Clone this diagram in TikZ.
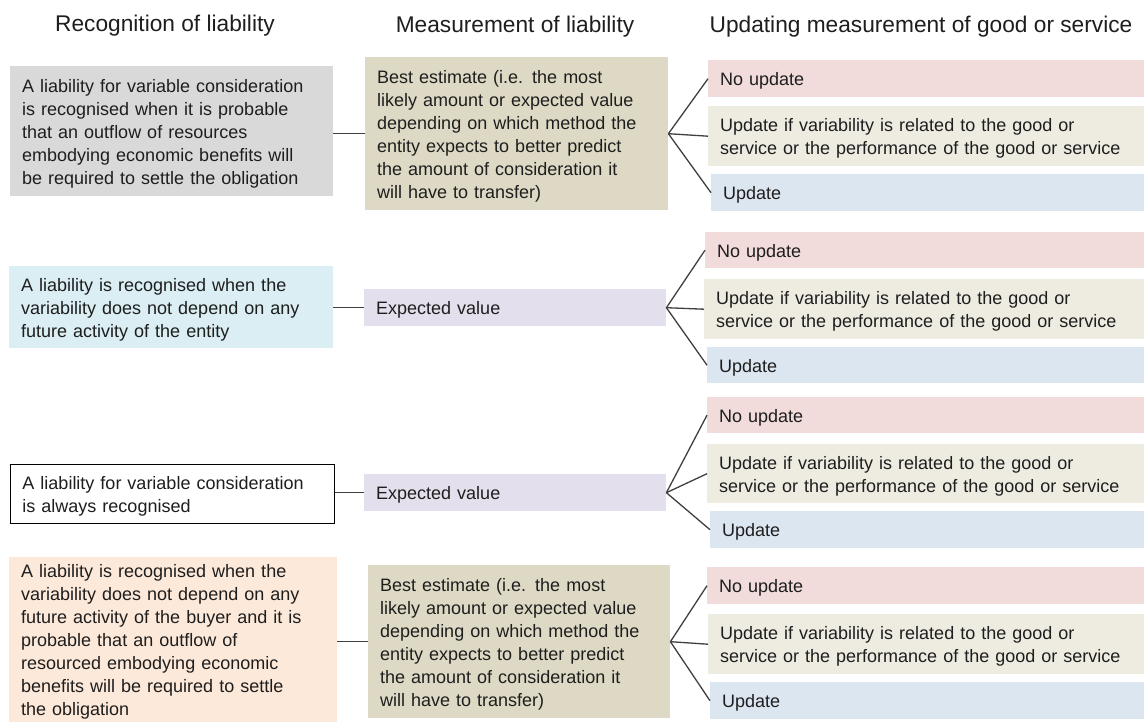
\documentclass[tikz,border=0pt]{standalone}
\usepackage{fontspec}
\setmainfont{Liberation Sans}
\definecolor{cGray}{HTML}{D9D9D9}
\definecolor{cTan}{HTML}{DDD9C4}
\definecolor{cCyan}{HTML}{DAEEF3}
\definecolor{cPurple}{HTML}{E4DFEC}
\definecolor{cPink}{HTML}{F2DCDB}
\definecolor{cCream}{HTML}{EEECE1}
\definecolor{cBlue}{HTML}{DCE6F1}
\definecolor{cPeach}{HTML}{FDE9D9}
\definecolor{cText}{HTML}{1E1E1E}
\definecolor{cLine}{HTML}{404040}
\tikzset{
  bx/.style={anchor=north west, inner xsep=12pt, inner ysep=0pt, align=left,
    text=cText, font=\fontsize{18}{23}\selectfont,
    execute at begin node={\rule{0pt}{18pt}}},
  hdr/.style={text=cText, font=\fontsize{22.7}{26}\selectfont, inner sep=0pt},
  conn/.style={draw=cLine, line width=1.3pt}
}
\begin{document}
\begin{tikzpicture}[x=1pt,y=-1pt]
\useasboundingbox[fill=white] (0,0) rectangle (1144,722);

% headers
\node[hdr] (h1) at (165,26) {Recognition of liability};
\node[hdr] (h2) at (515,27) {Measurement of liability};
\node[hdr] (h3) at (921,27) {Updating measurement of good or service};

% Row 1
\node[bx, fill=cGray, minimum width=323pt, minimum height=130pt, text width=299pt] (l1) at (10,66)
 {A liability for variable consideration\\is recognised when it is probable\\that an outflow of resources\\embodying economic benefits will\\be required to settle the obligation};
\node[bx, fill=cTan, minimum width=303pt, minimum height=153pt, text width=279pt] (m1) at (365,57)
 {Best estimate (i.e. the most\\likely amount or expected value\\depending on which method the\\entity expects to better predict\\the amount of consideration it\\will have to transfer)};
\node[bx, fill=cPink, minimum width=436pt, minimum height=37pt, text width=412pt] (n1) at (708,60) {No update};
\node[bx, fill=cCream, minimum width=436pt, minimum height=60pt, text width=412pt] (u1) at (708,106)
 {Update if variability is related to the good or\\service or the performance of the good or service};
\node[bx, fill=cBlue, minimum width=433pt, minimum height=37pt, text width=409pt] (p1) at (711,174) {Update};

% Row 2
\node[bx, fill=cCyan, minimum width=324pt, minimum height=82pt, text width=300pt] (l2) at (9,266)
 {A liability is recognised when the\\variability does not depend on any\\future activity of the entity};
\node[bx, fill=cPurple, minimum width=302pt, minimum height=37pt, text width=278pt] (m2) at (364,289) {Expected value};
\node[bx, fill=cPink, minimum width=439pt, minimum height=36pt, text width=415pt] (n2) at (705,232) {No update};
\node[bx, fill=cCream, minimum width=440pt, minimum height=60pt, text width=416pt] (u2) at (704,279)
 {Update if variability is related to the good or\\service or the performance of the good or service};
\node[bx, fill=cBlue, minimum width=437pt, minimum height=36pt, text width=413pt] (p2) at (707,347) {Update};

% Row 3
\node[bx, fill=white, draw=black, line width=1.5pt, minimum width=324pt, minimum height=59pt, text width=300pt] (l3) at (9.75,463.75)
 {A liability for variable consideration\\is always recognised};
\node[bx, fill=cPurple, minimum width=302pt, minimum height=37pt, text width=278pt] (m3) at (364,474) {Expected value};
\node[bx, fill=cPink, minimum width=437pt, minimum height=36pt, text width=413pt] (n3) at (707,397) {No update};
\node[bx, fill=cCream, minimum width=437pt, minimum height=59pt, text width=413pt] (u3) at (707,444)
 {Update if variability is related to the good or\\service or the performance of the good or service};
\node[bx, fill=cBlue, minimum width=434pt, minimum height=37pt, text width=410pt] (p3) at (710,511) {Update};

% Row 4
\node[bx, fill=cPeach, minimum width=328pt, minimum height=165pt, text width=304pt] (l4) at (9,557)
 {A liability is recognised when the\\variability does not depend on any\\future activity of the buyer and it is\\probable that an outflow of\\resourced embodying economic\\benefits will be required to settle\\the obligation};
\node[bx, fill=cTan, minimum width=302pt, minimum height=153pt, text width=278pt] (m4) at (368,565)
 {Best estimate (i.e. the most\\likely amount or expected value\\depending on which method the\\entity expects to better predict\\the amount of consideration it\\will have to transfer)};
\node[bx, fill=cPink, minimum width=437pt, minimum height=37pt, text width=413pt] (n4) at (707,567) {No update};
\node[bx, fill=cCream, minimum width=436pt, minimum height=60pt, text width=412pt] (u4) at (708,614)
 {Update if variability is related to the good or\\service or the performance of the good or service};
\node[bx, fill=cBlue, minimum width=434pt, minimum height=37pt, text width=410pt] (p4) at (710,682) {Update};

% connectors
\foreach \r in {1,2,3,4}{
  \draw[conn] (m\r.west) -- (m\r.west -| l\r.east);
  \draw[conn] (m\r.east) -- (n\r.west);
  \draw[conn] (m\r.east) -- (u\r.west);
  \draw[conn] (m\r.east) -- (p\r.west);
}
\end{tikzpicture}
\end{document}
